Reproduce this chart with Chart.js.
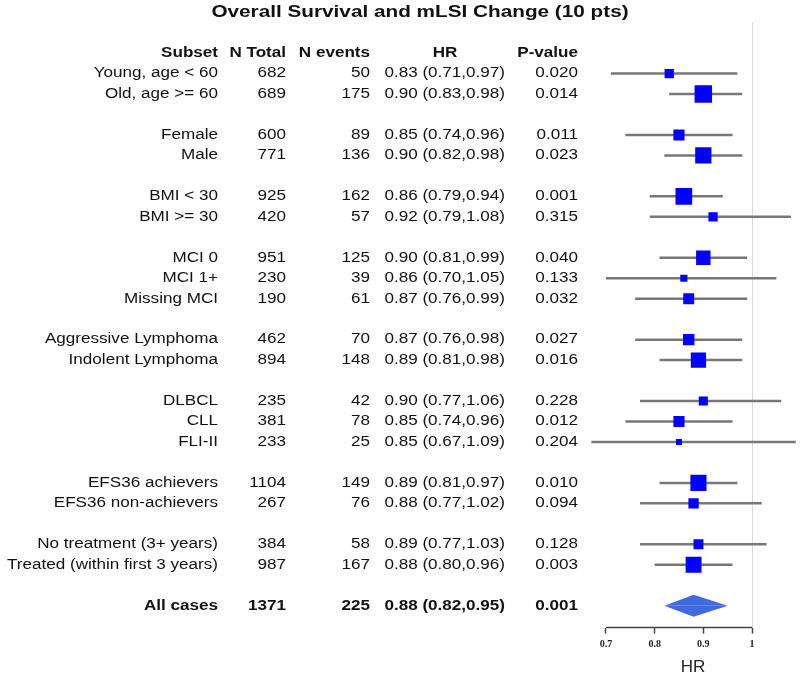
<!DOCTYPE html>
<html>
<head>
<meta charset="utf-8">
<script src="https://cdn.jsdelivr.net/npm/chart.js@4.4.1/dist/chart.umd.min.js"></script>
<style>
  html, body { margin: 0; padding: 0; background: #fff; }
  #wrap { width: 800px; height: 675px; }
</style>
</head>
<body>
<div id="wrap"><canvas id="forest" width="800" height="675"></canvas></div>
<script>
const chartTitle = 'Overall Survival and mLSI Change (10 pts)';
const headers = ['Subset', 'N Total', 'N events', 'HR', 'P-value'];

const subsets = [
  'Young, age < 60', 'Old, age >= 60',
  'Female', 'Male',
  'BMI < 30', 'BMI >= 30',
  'MCI 0', 'MCI 1+', 'Missing MCI',
  'Aggressive Lymphoma', 'Indolent Lymphoma',
  'DLBCL', 'CLL', 'FLI-II',
  'EFS36 achievers', 'EFS36 non-achievers',
  'No treatment (3+ years)', 'Treated (within first 3 years)'
];
const rowIndex = [1, 2, 4, 5, 7, 8, 10, 11, 12, 14, 15, 17, 18, 19, 21, 22, 24, 25];
const nTotal = [682, 689, 600, 771, 925, 420, 951, 230, 190, 462, 894, 235, 381, 233, 1104, 267, 384, 987];
const nEvents = [50, 175, 89, 136, 162, 57, 125, 39, 61, 70, 148, 42, 78, 25, 149, 76, 58, 167];
const hr = [0.83, 0.90, 0.85, 0.90, 0.86, 0.92, 0.90, 0.86, 0.87, 0.87, 0.89, 0.90, 0.85, 0.85, 0.89, 0.88, 0.89, 0.88];
const lower = [0.71, 0.83, 0.74, 0.82, 0.79, 0.79, 0.81, 0.70, 0.76, 0.76, 0.81, 0.77, 0.74, 0.67, 0.81, 0.77, 0.77, 0.80];
const upper = [0.97, 0.98, 0.96, 0.98, 0.94, 1.08, 0.99, 1.05, 0.99, 0.98, 0.98, 1.06, 0.96, 1.09, 0.97, 1.02, 1.03, 0.96];
const pValues = ['0.020', '0.014', '0.011', '0.023', '0.001', '0.315', '0.040', '0.133', '0.032', '0.027',
                 '0.016', '0.228', '0.012', '0.204', '0.010', '0.094', '0.128', '0.003'];

// overall row
const overallLabel = 'All cases';
const overallRow = 27;
const overallTotal = 1371;
const overallEvents = 225;
const overallHr = 0.88;
const overallLower = 0.82;
const overallUpper = 0.95;
const overallP = '0.001';

const xTicks = [0.7, 0.8, 0.9, 1];

const fmt = v => v.toFixed(2);
const hrText = (h, l, u) => `${fmt(h)} (${fmt(l)},${fmt(u)})`;

// square side follows precision of the estimate (1 / log CI width)
const squareRadius = lower.map((lo, i) => 2.05 / Math.log(upper[i] / lo));

const ciSets = lower.map((lo, i) => ({
  data: [{ x: lo, y: rowIndex[i] }, { x: upper[i], y: rowIndex[i] }],
  showLine: true,
  borderColor: '#777777',
  borderWidth: 2.5,
  pointRadius: 0,
  order: 3,
}));

const diamondHalf = 0.54;
const diamondSets = [-1, 1].map(side => ({
  data: [
    { x: overallLower, y: overallRow },
    { x: overallHr, y: overallRow + side * diamondHalf },
    { x: overallUpper, y: overallRow },
  ],
  showLine: true,
  tension: 0,
  borderColor: 'transparent',
  borderWidth: 1,
  backgroundColor: '#4169e1',
  fill: { value: overallRow },
  pointRadius: 0,
  order: 2,
}));

const SX = 1.22; // horizontal stretch of the text in the original

const tableText = {
  id: 'tableText',
  afterDraw(chart) {
    const ctx = chart.ctx;
    const yScale = chart.scales.y;
    const xScale = chart.scales.x;
    const area = chart.chartArea;

    // axis line only between first and last tick
    ctx.save();
    ctx.strokeStyle = '#444';
    ctx.lineWidth = 1.5;
    ctx.beginPath();
    ctx.moveTo(xScale.getPixelForValue(xTicks[0]), area.bottom);
    ctx.lineTo(xScale.getPixelForValue(xTicks[xTicks.length - 1]), area.bottom);
    ctx.stroke();
    ctx.restore();

    const put = (txt, x, y, font, align) => {
      ctx.save();
      ctx.font = font;
      ctx.fillStyle = '#111';
      ctx.textBaseline = 'middle';
      ctx.textAlign = align;
      ctx.translate(x, y);
      ctx.scale(SX, 1);
      ctx.fillText(txt, 0, 0);
      ctx.restore();
    };
    const normal = '14px "Liberation Sans", Arial, sans-serif';
    const bold = 'bold 14px "Liberation Sans", Arial, sans-serif';

    put(chartTitle, 420, 12, 'bold 17px "Liberation Sans", Arial, sans-serif', 'center');

    const row = r => yScale.getPixelForValue(r);
    const y0 = row(0);
    put(headers[0], 218, y0, bold, 'right');
    put(headers[1], 286, y0, bold, 'right');
    put(headers[2], 370, y0, bold, 'right');
    put(headers[3], 445, y0, bold, 'center');
    put(headers[4], 578, y0, bold, 'right');

    subsets.forEach((name, i) => {
      const y = row(rowIndex[i]);
      put(name, 218, y, normal, 'right');
      put(String(nTotal[i]), 286, y, normal, 'right');
      put(String(nEvents[i]), 370, y, normal, 'right');
      put(hrText(hr[i], lower[i], upper[i]), 505, y, normal, 'right');
      put(pValues[i], 578, y, normal, 'right');
    });

    const yo = row(overallRow);
    put(overallLabel, 218, yo, bold, 'right');
    put(String(overallTotal), 286, yo, bold, 'right');
    put(String(overallEvents), 370, yo, bold, 'right');
    put(hrText(overallHr, overallLower, overallUpper), 505, yo, bold, 'right');
    put(overallP, 578, yo, bold, 'right');
  },
};

new Chart(document.getElementById('forest'), {
  type: 'scatter',
  data: {
    datasets: [
      {
        data: hr.map((v, i) => ({ x: v, y: rowIndex[i] })),
        pointStyle: 'rect',
        pointRadius: squareRadius,
        backgroundColor: '#0000ff',
        borderColor: '#0000ff',
        borderWidth: 0,
        order: 1,
      },
      ...diamondSets,
      ...ciSets,
    ],
  },
  options: {
    responsive: false,
    animation: false,
    events: [],
    layout: { autoPadding: false, padding: { left: 586, right: 0, top: 22, bottom: -3 } },
    plugins: {
      legend: { display: false },
      tooltip: { enabled: false },
    },
    scales: {
      x: {
        type: 'linear',
        min: 0.659,
        max: 1.0986,
        afterBuildTicks: axis => {
          axis.ticks = xTicks.map(v => ({ value: v }));
        },
        ticks: {
          font: { family: '"Liberation Serif", serif', size: 10, weight: 'bold' },
          color: '#222',
          padding: 5,
          maxRotation: 0,
          callback: v => String(v),
        },
        grid: {
          color: c => (c.tick && c.tick.value === 1 ? '#d9d9d9' : 'transparent'),
          lineWidth: 1,
          tickColor: '#444',
          tickWidth: 1.5,
          tickLength: 6,
        },
        border: { display: false },
        title: {
          display: true,
          text: 'HR',
          color: '#222',
          font: { family: '"Liberation Sans", Arial, sans-serif', size: 17 },
          padding: { top: 2, bottom: 0 },
        },
      },
      y: {
        type: 'linear',
        reverse: true,
        min: -1.52,
        max: 28.07,
        display: false,
      },
    },
  },
  plugins: [tableText],
});
</script>
</body>
</html>
